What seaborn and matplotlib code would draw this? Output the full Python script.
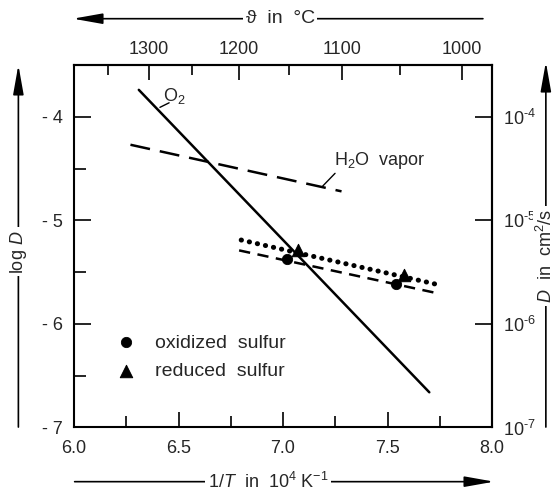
import numpy as np
import matplotlib
matplotlib.use("Agg")
import matplotlib.pyplot as plt
import seaborn as sns

# data (x = 1/T in 1e4/K, y = log D)
o2_x = [6.31, 7.70]
o2_logd = [-3.74, -6.66]
h2o_x = [6.27, 7.28]
h2o_logd = [-4.27, -4.72]
red_fit_x = [6.80, 7.74]
red_fit_logd = [-5.19, -5.62]
ox_fit_x = [6.79, 7.73]
ox_fit_logd = [-5.29, -5.70]
ox_x = [7.02, 7.54]
ox_logd = [-5.37, -5.61]
red_x = [7.07, 7.58]
red_logd = [-5.29, -5.53]

x_ticks = [6.0, 6.5, 7.0, 7.5, 8.0]
y_ticks = [-7, -6, -5, -4]
y_tick_labels = ['- 7', '- 6', '- 5', '- 4']
d_tick_labels = ['10$^{\u20107}$', '10$^{\u20106}$', '10$^{\u20105}$', '10$^{\u20104}$']
temp_major = [1000, 1100, 1200, 1300]
temp_minor = [1050, 1150, 1250, 1350]

sns.set_theme(style='ticks')
plt.rcParams['font.family'] = ['Liberation Sans', 'DejaVu Sans']
plt.rcParams['mathtext.fontset'] = 'custom'
plt.rcParams['mathtext.rm'] = 'Liberation Sans'
plt.rcParams['mathtext.it'] = 'Liberation Sans:italic'
fs = 13

fig = plt.figure(figsize=(5.57, 4.92), dpi=100)
ax = fig.add_axes([0.1329, 0.1311, 0.7504, 0.7368])

# lines
sns.lineplot(x=o2_x, y=o2_logd, ax=ax, color='black', lw=1.8)
sns.lineplot(x=h2o_x, y=h2o_logd, ax=ax, color='black', lw=1.8, linestyle=(0, (8, 4)))
sns.lineplot(x=red_fit_x, y=red_fit_logd, ax=ax, color='black', lw=3.6,
             linestyle=(0, (0.05, 1.6)), dash_capstyle='round')
sns.lineplot(x=ox_fit_x, y=ox_fit_logd, ax=ax, color='black', lw=1.8, linestyle=(0, (4.5, 3)))

# points
sns.scatterplot(x=ox_x, y=ox_logd, ax=ax, marker='o', s=55, color='black',
                edgecolor='black', label='oxidized  sulfur', zorder=5)
sns.scatterplot(x=red_x, y=red_logd, ax=ax, marker='^', s=80, color='black',
                edgecolor='black', label='reduced  sulfur', zorder=5)

ax.legend(loc='upper left', bbox_to_anchor=(0.10, 0.258), frameon=False, fontsize=14,
          handlelength=1.0, handletextpad=1.0, labelspacing=0.55, borderpad=0,
          borderaxespad=0)

# curve labels with leaders
ax.plot([6.411, 6.455], [-3.909, -3.865], color='black', lw=1.0)
ax.text(6.424, -3.80, r'O$_2$', fontsize=fs, ha='left', va='center')
ax.plot([7.190, 7.249], [-4.669, -4.546], color='black', lw=1.0)
ax.text(7.245, -4.42, r'H$_2$O  vapor', fontsize=fs, ha='left', va='center')

# axes
ax.set_xlim(6.0, 8.0)
ax.set_ylim(-7.0, -3.5)
ax.set_xticks(x_ticks)
ax.set_xticklabels([f'{v:.1f}' for v in x_ticks])
ax.set_xticks([6.25, 6.75, 7.25, 7.75], minor=True)
ax.set_yticks(y_ticks)
ax.set_yticklabels(y_tick_labels)
ax.set_yticks([-6.5, -5.5, -4.5], minor=True)
ax.tick_params(which='both', direction='in', top=False, right=False, width=1.2,
               labelsize=fs, color='black')
ax.tick_params(axis='x', which='major', length=11, pad=9)
ax.tick_params(axis='x', which='minor', length=8)
ax.tick_params(axis='y', which='major', length=12, pad=8)
ax.tick_params(axis='y', which='minor', length=8.5)
for sp in ax.spines.values():
    sp.set_linewidth(1.5)
    sp.set_color('black')


def to_celsius(x):
    x = np.asarray(x, dtype=float)
    with np.errstate(divide='ignore', invalid='ignore'):
        return 1e4 / x - 273.15


def to_inv(t):
    t = np.asarray(t, dtype=float)
    with np.errstate(divide='ignore', invalid='ignore'):
        return 1e4 / (t + 273.15)


top = ax.secondary_xaxis('top', functions=(to_celsius, to_inv))
top.set_xticks(temp_major)
top.set_xticklabels([str(t) for t in temp_major])
top.set_xticks(temp_minor, minor=True)
top.tick_params(which='both', direction='in', width=1.2, labelsize=fs, color='black')
top.tick_params(which='major', length=11, pad=5)
top.tick_params(which='minor', length=7.5)
top.spines['top'].set_linewidth(1.5)

right = ax.secondary_yaxis('right')
right.set_yticks(y_ticks)
right.set_yticklabels(d_tick_labels)
right.yaxis.set_minor_locator(matplotlib.ticker.NullLocator())
right.tick_params(which='both', direction='in', width=1.2, length=12, pad=8,
                  labelsize=fs, color='black')
right.spines['right'].set_linewidth(1.5)

# axis arrows with titles
arrow = dict(arrowstyle='-|>,head_length=0.9,head_width=0.16', color='black', lw=1.2,
             mutation_scale=20, shrinkA=0, shrinkB=0)
box = dict(facecolor='white', edgecolor='none', pad=2)
ax.annotate('', xy=(0.131, 0.962), xytext=(0.867, 0.962), xycoords='figure fraction',
            textcoords='figure fraction', arrowprops=arrow, annotation_clip=False)
fig.text(0.503, 0.962, r'ϑ  in  °C', fontsize=14, ha='center', va='center', bbox=box)
ax.annotate('', xy=(0.887, 0.021), xytext=(0.134, 0.021), xycoords='figure fraction',
            textcoords='figure fraction', arrowprops=arrow, annotation_clip=False)
fig.text(0.481, 0.021, r'1/$T$  in  10$^4$ K$^{-1}$', fontsize=fs, ha='center',
         va='center', bbox=box)
ax.annotate('', xy=(0.033, 0.868), xytext=(0.033, 0.132), xycoords='figure fraction',
            textcoords='figure fraction', arrowprops=arrow, annotation_clip=False)
fig.text(0.033, 0.488, r'log $D$', fontsize=fs, ha='center', va='center',
         rotation=90, bbox=box)
ax.annotate('', xy=(0.980, 0.874), xytext=(0.980, 0.132), xycoords='figure fraction',
            textcoords='figure fraction', arrowprops=arrow, annotation_clip=False)
fig.text(0.980, 0.480, r'$D$  in  cm$^2$/s', fontsize=fs, ha='center', va='center',
         rotation=90, bbox=box, zorder=0)

fig.savefig('out.png', dpi=100, facecolor='white')
